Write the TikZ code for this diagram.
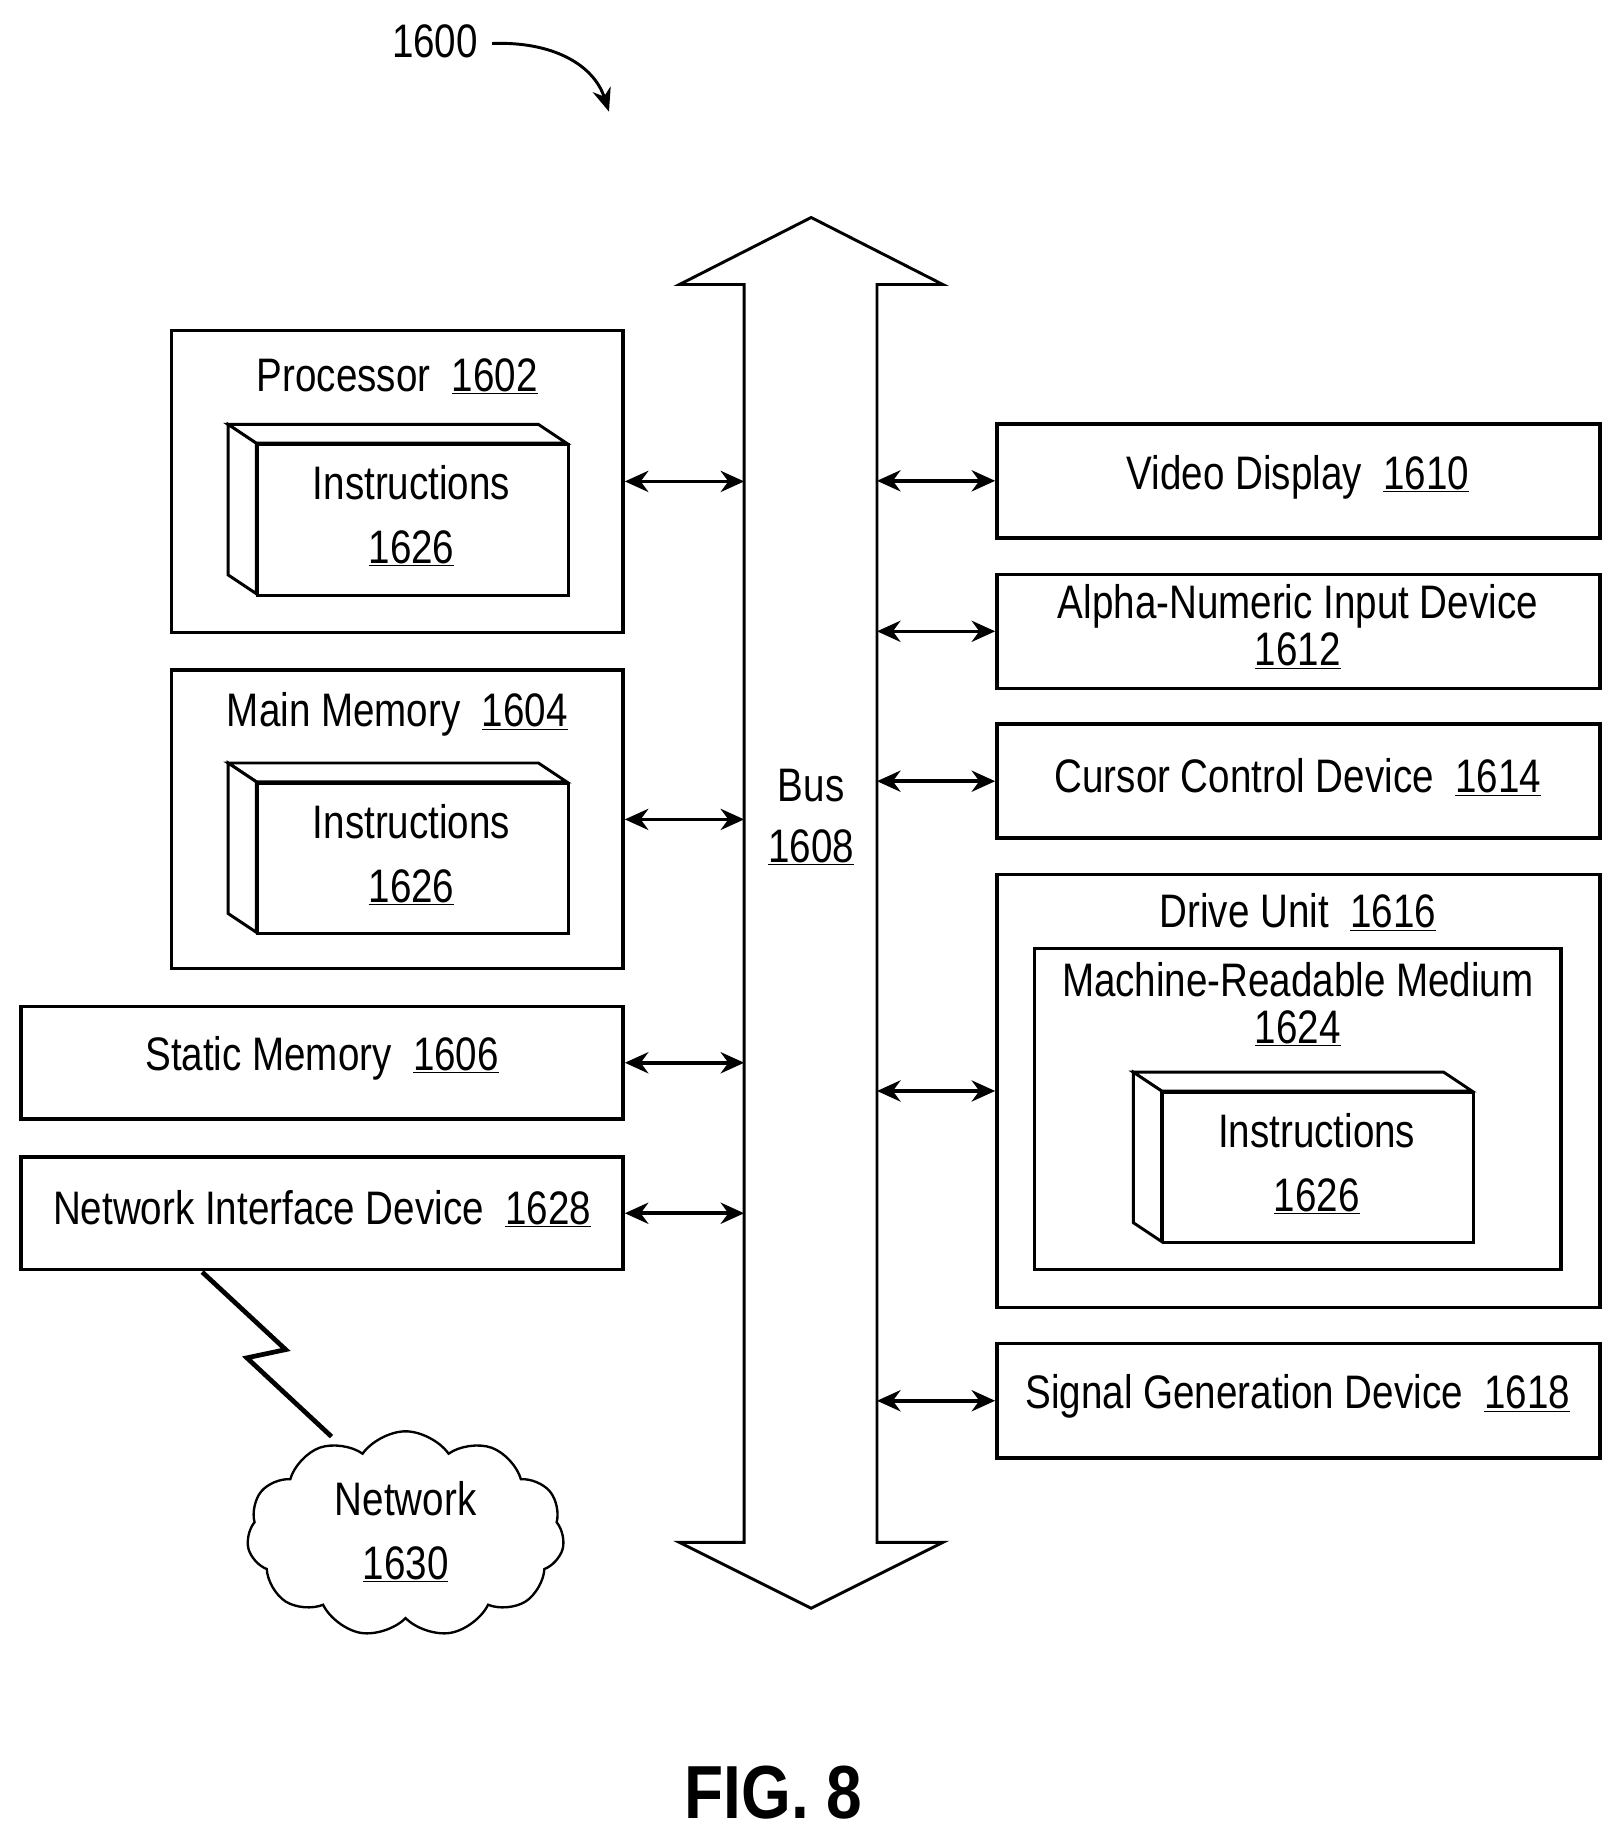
\documentclass[tikz,border=0pt]{standalone}
\usepackage{fontspec}
\setmainfont{Liberation Sans}[FakeStretch=0.82]
\newfontfamily\figfont{Liberation Sans}[FakeStretch=0.85]
\usetikzlibrary{arrows.meta,shapes.symbols}
\newcommand{\ul}[1]{\underline{#1}}
\begin{document}
\begin{tikzpicture}[x=1pt,y=-1pt,
  box/.style={draw,line width=3pt,inner sep=0pt},
  txt/.style={font=\fontsize{40}{46}\selectfont,align=center,inner sep=0pt},
  conn/.style={line width=3pt,{Stealth[length=20pt,width=18pt]}-{Stealth[length=20pt,width=18pt]}},
  face/.style={draw,line width=2.5pt,fill=white,line join=miter}]
\useasboundingbox (0,0) rectangle (1380,1566);
% title
\node[txt] (t1600) at (370,35) {1600};
\coordinate (ae) at (518,95);
\draw[line width=2.5pt,-{Stealth[length=20pt,width=16pt]}] (t1600.east)++(12,2) .. controls (470,35) and (505,55) .. (ae);
% bus
\draw[line width=2.5pt,line join=miter] (633,1312) -- (633,242) -- (578,242) -- (690,185) -- (802,242) -- (746,242) -- (746,1312) -- (802,1312) -- (690,1368) -- (578,1312) -- cycle;
\coordinate (busL) at (633,700); \coordinate (busR) at (746,700);
\node[txt] (bus) at (690,695) {Bus\\[6pt]\ul{1608}};
% left boxes
\node[box,minimum width=384pt,minimum height=257pt] (proc) at (338,409.5) {};
\node[txt] at (338,320) {Processor\ \ \ul{1602}};
\node[box,minimum width=384pt,minimum height=254pt] (mem) at (338,697) {};
\node[txt] at (338,608) {Main Memory\ \ \ul{1604}};
\node[box,minimum width=512pt,minimum height=96pt] (stat) at (274,904) {};
\node[txt] at (274,900) {Static Memory\ \ \ul{1606}};
\node[box,minimum width=512pt,minimum height=96pt] (net) at (274,1032) {};
\node[txt] at (274,1028) {Network Interface Device\ \ \ul{1628}};
% instruction boxes
\foreach \x/\y/\n in {218/377/a,218/665/b,988/928/c}{
  \draw[face] (\x-24,\y-16) -- (\x+240,\y-16) -- (\x+264,\y) -- (\x,\y) -- cycle;
  \draw[face] (\x-24,\y-16) -- (\x,\y) -- (\x,\y+128) -- (\x-24,\y+112) -- cycle;
  \node[face,minimum width=264pt,minimum height=128pt,anchor=north west,inner sep=0pt] (ins\n) at (\x,\y) {};
  \node[txt] at (\x+132,\y+62) {Instructions\\[8pt]\ul{1626}};
}
% right boxes
\node[box,minimum width=513pt,minimum height=97pt] (vid) at (1104.5,409) {};
\node[txt] at (1104,406) {Video Display\ \ \ul{1610}};
\node[box,minimum width=513pt,minimum height=97pt] (alpha) at (1104.5,537) {};
\node[txt] at (1104,533) {Alpha-Numeric Input Device\\[-6pt]\ul{1612}};
\node[box,minimum width=513pt,minimum height=97pt] (cur) at (1104.5,664.5) {};
\node[txt] at (1104,661) {Cursor Control Device\ \ \ul{1614}};
\node[box,minimum width=513pt,minimum height=368pt] (drive) at (1104.5,928) {};
\node[txt] at (1104,776) {Drive Unit\ \ \ul{1616}};
\draw[line width=3pt] (880,807) rectangle (1328,1080);
\node[txt] at (1104,854) {Machine-Readable Medium\\[-6pt]\ul{1624}};
\node[box,minimum width=513pt,minimum height=97pt] (sig) at (1104.5,1191.5) {};
\node[txt] at (1104,1188) {Signal Generation Device\ \ \ul{1618}};
% connectors
\draw[conn] (proc.east) -- (proc.east -| busL);
\draw[conn] (mem.east) -- (mem.east -| busL);
\draw[conn] (stat.east) -- (stat.east -| busL);
\draw[conn] (net.east) -- (net.east -| busL);
\draw[conn] (vid.west -| busR) -- (vid.west);
\draw[conn] (alpha.west -| busR) -- (alpha.west);
\draw[conn] (cur.west -| busR) -- (cur.west);
\draw[conn] (drive.west -| busR) -- (drive.west);
\draw[conn] (sig.west -| busR) -- (sig.west);
% network
\node[cloud,draw,line width=2pt,cloud puffs=11,cloud puff arc=110,aspect=1.5,minimum width=270pt,minimum height=175pt,inner sep=0pt] (cloud) at (345,1305) {};
\node[txt] at (345,1303) {Network\\[8pt]\ul{1630}};
\draw[line width=4pt,line join=miter] (172,1082) -- (243,1148) -- (210,1155) -- (282,1222);
% fig
\node[font=\figfont\bfseries\fontsize{64}{70}\selectfont,inner sep=0pt] (fig) at (658,1525) {FIG. 8};
\end{tikzpicture}
\end{document}
